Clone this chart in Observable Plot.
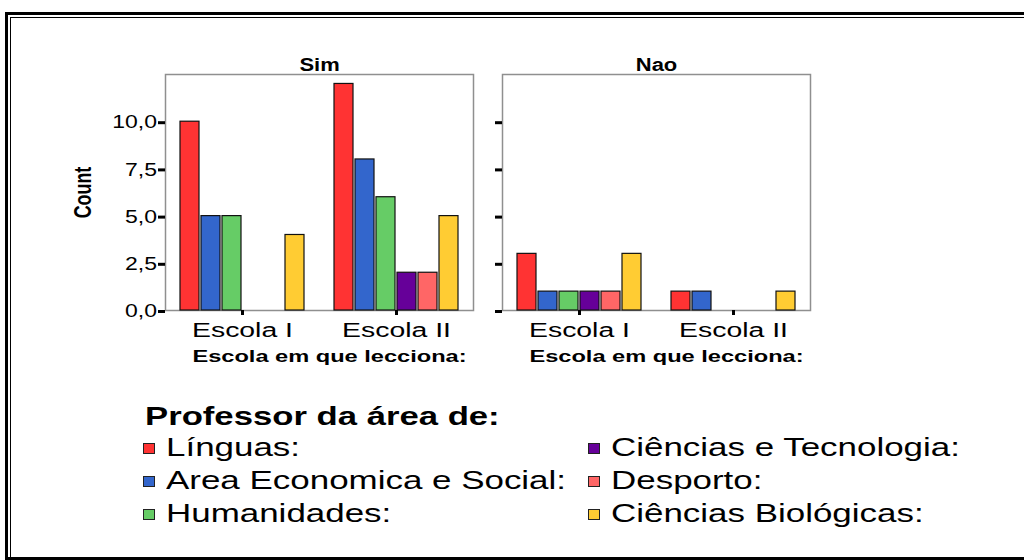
<!DOCTYPE html>
<html>
<head>
<meta charset="utf-8">
<script src="https://cdn.jsdelivr.net/npm/d3@7"></script>
<script src="https://cdn.jsdelivr.net/npm/@observablehq/plot@0.6"></script>
<style>
  html, body { margin: 0; padding: 0; background: #fff; width: 1024px; height: 560px; overflow: hidden; }
  #stage { position: relative; width: 1024px; height: 560px; font-family: "Liberation Sans", Arial, sans-serif; color: #000; }
  .b1 { position: absolute; left: 5px; top: 12px; width: 1100px; height: 548px; border: 3px solid #000; box-sizing: border-box; }
  .b2 { position: absolute; left: 10px; top: 17px; width: 1100px; height: 540px; border: 1.5px solid #000; border-bottom: none; box-sizing: border-box; }
  .panel { position: absolute; top: 34px; }
  #legend { position: absolute; left: 143px; top: 402px; font-family: "Liberation Sans", Arial, sans-serif; font-size: 25.5px; }
  #legend .title { font-weight: bold; line-height: 29px; height: 29px; padding-left: 2px; white-space: nowrap; }
  #legend .title span, #legend .item .lab { display: inline-block; transform-origin: 0 50%; white-space: nowrap; }
  #legend .title span { transform: scaleX(1.36); }
  #legend .item .lab { transform: scaleX(1.37); }
  #legend .grid { display: grid; grid-template-columns: 445px 420px; grid-template-rows: repeat(3, 33px); grid-auto-flow: column; }
  #legend .item { display: flex; align-items: center; white-space: nowrap; line-height: 33px; }
  #legend .sw { width: 12px; height: 11px; border: 1px solid #222; box-sizing: border-box; margin-right: 11px; flex: none; position: relative; top: 1px; }
</style>
</head>
<body>
<div id="stage">
  <div class="b1"></div>
  <div class="b2"></div>
</div>
<script>
// ---- data ----
const panels = ["Sim", "Nao"];
const schools = ["Escola I", "Escola II"];
const areas = ["Línguas:", "Area Economica e Social:", "Humanidades:", "Ciências e Tecnologia:", "Desporto:", "Ciências Biológicas:"];
const colors = ["#ff3333", "#3366cc", "#66cc66", "#660099", "#ff6666", "#ffcc33"];
const simEscolaI  = [10, 5, 5, 0, 0, 4];
const simEscolaII = [12, 8, 6, 2, 2, 5];
const naoEscolaI  = [3, 1, 1, 1, 1, 3];
const naoEscolaII = [1, 1, 0, 0, 0, 1];
const yTicks = [0, 2.5, 5, 7.5, 10];
const yLabel = "Count";
const xLabel = "Escola em que lecciona:";
const legendTitle = "Professor da área de:";

function rows(valsI, valsII) {
  return [valsI, valsII].flatMap((vals, i) =>
    vals.map((v, j) => ({school: schools[i], area: areas[j], count: v}))
  ).filter(d => d.count > 0);
}

const fmt = d => d.toFixed(1).replace(".", ",");

function tag(mark, label) { mark.ariaLabel = label; return mark; }

// the reference text is drawn horizontally stretched; mimic with textLength
const stretchFactors = {
  "y-axis tick label": 1.3,
  "fx-axis tick label": 1.42,
  "x-title": 1.45,
  "panel-title": 1.22,
  "y-title": 0.745
};
function stretch(svg) {
  for (const [label, k] of Object.entries(stretchFactors)) {
    svg.querySelectorAll(`g[aria-label="${label}"] text`).forEach(el => {
      const n = el.getComputedTextLength();
      if (n > 0) {
        el.setAttribute("textLength", n * k);
        el.setAttribute("lengthAdjust", "spacingAndGlyphs");
      }
    });
  }
}

function panel(name, data, left, withLabels) {
  const marginLeft = withLabels ? 105 : 20;
  const marks = [
    Plot.frame({facet: "super", stroke: "#8f8f8f", strokeWidth: 1.5}),
    Plot.barY(data, {fx: "school", x: "area", y: "count", fill: "area", stroke: "#111", strokeWidth: 1.2}),
    Plot.axisY({ticks: yTicks, tickSize: 7, tickPadding: 1.5, strokeWidth: 3, stroke: "#000",
                tickFormat: withLabels ? fmt : () => "", label: null, fontSize: 17.7, dy: 1}),
    Plot.axisFx({anchor: "bottom", tickSize: 5, tickPadding: 7, strokeWidth: 3, stroke: "#000", fontSize: 20, label: null}),
    tag(Plot.text([name], {text: d => d, frameAnchor: "top", lineAnchor: "bottom", dy: -4, facet: "super",
                           fontWeight: "bold", fontSize: 18}), "panel-title"),
    tag(Plot.text([xLabel], {text: d => d, frameAnchor: "bottom", lineAnchor: "middle", dy: 46.5, dx: 10, facet: "super",
                             fontWeight: "bold", fontSize: 16.3}), "x-title")
  ];
  if (withLabels) {
    marks.push(tag(Plot.text([yLabel], {text: d => d, frameAnchor: "left", textAnchor: "middle", lineAnchor: "middle",
                                        dx: -82, rotate: -90, facet: "super",
                                        fontWeight: "bold", fontSize: 24}), "y-title"));
  }
  const svg = Plot.plot({
    width: marginLeft + 308 + 10,
    height: 346,
    marginLeft, marginRight: 10, marginTop: 40, marginBottom: 70,
    fx: {domain: schools, padding: 0, axis: null},
    x: {domain: areas, paddingInner: 0.1, paddingOuter: 0.57, axis: null},
    y: {domain: [0, 12.5], axis: null},
    color: {domain: areas, range: colors},
    style: {fontFamily: "'Liberation Sans', Arial, sans-serif", fontSize: "18px", color: "#000", background: "transparent", overflow: "visible"},
    marks
  });
  svg.classList.add("panel");
  svg.style.left = left + "px";
  return svg;
}

const stage = document.getElementById("stage");
const p1 = panel(panels[0], rows(simEscolaI, simEscolaII), 60, true);
const p2 = panel(panels[1], rows(naoEscolaI, naoEscolaII), 482, false);
stage.appendChild(p1);
stage.appendChild(p2);
stretch(p1);
stretch(p2);

// ---- legend ----
const legend = document.createElement("div");
legend.id = "legend";
const t = document.createElement("div");
t.className = "title";
const ts = document.createElement("span");
ts.textContent = legendTitle;
t.appendChild(ts);
legend.appendChild(t);
const grid = document.createElement("div");
grid.className = "grid";
areas.forEach((a, i) => {
  const item = document.createElement("div");
  item.className = "item";
  const sw = document.createElement("span");
  sw.className = "sw";
  sw.style.background = colors[i];
  const lab = document.createElement("span");
  lab.className = "lab";
  lab.textContent = a;
  item.appendChild(sw);
  item.appendChild(lab);
  grid.appendChild(item);
});
legend.appendChild(grid);
stage.appendChild(legend);
</script>
</body>
</html>
